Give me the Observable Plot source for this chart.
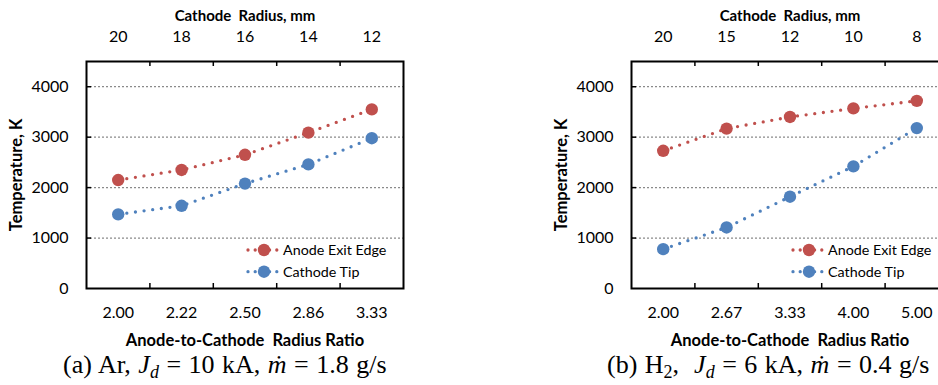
<!DOCTYPE html>
<html>
<head>
<meta charset="utf-8">
<script src="https://cdn.jsdelivr.net/npm/d3@7"></script>
<script src="https://cdn.jsdelivr.net/npm/@observablehq/plot@0.6"></script>
<style>
  html, body { margin: 0; padding: 0; background: #fff; }
  #wrap { position: relative; width: 938px; height: 385px; overflow: hidden; background: #fff; }
  #wrap svg text { white-space: pre; }
  .panel { position: absolute; top: 0; }
  .cap { position: absolute; font-family: "Liberation Serif", "Times New Roman", serif; font-size: 26px; line-height: 26px; word-spacing: 1px; white-space: pre; color: #000; }
  .cap sub { font-size: 18px; vertical-align: -5px; line-height: 0; }
</style>
</head>
<body>
<div id="wrap"></div>
<script>
// ---- data ----
const seriesNames = ["Anode Exit Edge", "Cathode Tip"];
const seriesColors = ["#C0504D", "#4F81BD"];
const yTicks = [0, 1000, 2000, 3000, 4000];
const gridY = [1000, 2000, 3000, 4000];

// panel (a) Ar
const ratioA = ["2.00", "2.22", "2.50", "2.86", "3.33"];
const radiusA = ["20", "18", "16", "14", "12"];
const anodeA = [2150, 2350, 2650, 3090, 3550];
const cathodeA = [1470, 1640, 2080, 2460, 2980];

// panel (b) H2
const ratioB = ["2.00", "2.67", "3.33", "4.00", "5.00"];
const radiusB = ["20", "15", "12", "10", "8"];
const anodeB = [2730, 3170, 3400, 3570, 3720];
const cathodeB = [780, 1210, 1820, 2420, 3180];

const FONT = "Lato, 'Open Sans', sans-serif";

function panel(ratio, radius, anode, cathode) {
  const n = ratio.length;
  const rows = [];
  anode.forEach((v, i) => rows.push({s: seriesNames[0], i, v}));
  cathode.forEach((v, i) => rows.push({s: seriesNames[1], i, v}));
  const W = 470, H = 350, mL = 86, mR = 67, mT = 61, mB = 62;
  const plotW = W - mL - mR, plotH = H - mT - mB;
  const bounds = d3.range(1, n).map(i => i - 0.5);
  const idx = d3.range(n);
  return Plot.plot({
    width: W, height: H,
    marginLeft: mL, marginRight: mR, marginTop: mT, marginBottom: mB,
    style: {fontFamily: FONT, fontSize: "16px", color: "#000", background: "transparent", overflow: "visible"},
    x: {type: "linear", domain: [-0.5, n - 0.5]},
    y: {domain: [0, 4500]},
    color: {domain: seriesNames, range: seriesColors},
    marks: [
      Plot.ruleY(gridY, {stroke: "#8a8a8a", strokeWidth: 1.3, strokeDasharray: "2,2"}),
      Plot.ruleY(gridY, {insetRight: plotW - 5, stroke: "#000", strokeWidth: 1.5}),
      Plot.ruleX(bounds, {insetBottom: plotH - 5, stroke: "#000", strokeWidth: 1.5}),
      Plot.ruleX(bounds, {insetTop: plotH - 5, stroke: "#000", strokeWidth: 1.5}),
      Plot.line(rows, {x: "i", y: "v", z: "s", stroke: "s", strokeWidth: 3.3, strokeDasharray: "0,8.7", strokeLinecap: "round"}),
      Plot.dot(rows, {x: "i", y: "v", fill: "s", r: 6.2}),
      Plot.frame({stroke: "#000", strokeWidth: 2}),
      Plot.axisY({ticks: yTicks, tickSize: 0, tickPadding: 18, tickFormat: d => String(d), label: null}),
      Plot.axisY({ticks: [], label: "Temperature, K", labelAnchor: "center", labelOffset: 76, labelArrow: false, fontWeight: "bold", fontSize: 16.5}),
      Plot.axisX({ticks: idx, tickSize: 0, tickPadding: 18, tickFormat: i => ratio[i], label: null}),
      Plot.axisX({ticks: [], label: "Anode-to-Cathode  Radius Ratio", labelAnchor: "center", labelOffset: 57, labelArrow: false, fontWeight: "bold", fontSize: 16.5}),
      Plot.axisX({anchor: "top", ticks: idx, tickSize: 0, tickPadding: 20, tickFormat: i => radius[i], label: null}),
      Plot.axisX({anchor: "top", ticks: [], label: "Cathode  Radius, mm", labelAnchor: "center", labelOffset: 51, labelArrow: false, fontWeight: "bold", fontSize: 15})
    ]
  });
}

function legend(frameLeft) {
  const svg = d3.create("svg")
    .attr("width", 200).attr("height", 60)
    .style("position", "absolute")
    .style("left", (frameLeft + 158) + "px")
    .style("top", "230px")
    .style("overflow", "visible");
  const rowsY = [20, 41.7];
  seriesNames.forEach((name, k) => {
    const g = svg.append("g").attr("transform", `translate(0,${rowsY[k]})`);
    g.append("line").attr("x1", 4).attr("x2", 33).attr("y1", 0).attr("y2", 0)
      .attr("stroke", seriesColors[k]).attr("stroke-width", 3.3)
      .attr("stroke-dasharray", "0,7.2").attr("stroke-linecap", "round");
    g.append("circle").attr("cx", 20).attr("cy", 0).attr("r", 6.2).attr("fill", seriesColors[k]);
    g.append("text").attr("x", 39).attr("y", 0).attr("dy", "0.35em")
      .attr("font-family", FONT).attr("font-size", 14.3).attr("fill", "#000").text(name);
  });
  return svg.node();
}

const wrap = document.getElementById("wrap");
const pa = panel(ratioA, radiusA, anodeA, cathodeA);
pa.classList.add("panel"); pa.style.left = "0px";
wrap.appendChild(pa);
wrap.appendChild(legend(86));

const pb = panel(ratioB, radiusB, anodeB, cathodeB);
pb.classList.add("panel"); pb.style.left = "544.5px";
wrap.appendChild(pb);
wrap.appendChild(legend(630.5));

const capA = document.createElement("div");
capA.className = "cap"; capA.style.left = "63px"; capA.style.top = "352px";
capA.innerHTML = "(a) Ar, <i>J<sub>d</sub></i> = 10 kA, <i>ṁ</i> = 1.8 g/s";
wrap.appendChild(capA);

const capB = document.createElement("div");
capB.className = "cap"; capB.style.left = "607px"; capB.style.top = "352px";
capB.innerHTML = "(b) H<sub>2</sub>,  <i>J<sub>d</sub></i> = 6 kA, <i>ṁ</i> = 0.4 g/s";
wrap.appendChild(capB);
</script>
</body>
</html>
